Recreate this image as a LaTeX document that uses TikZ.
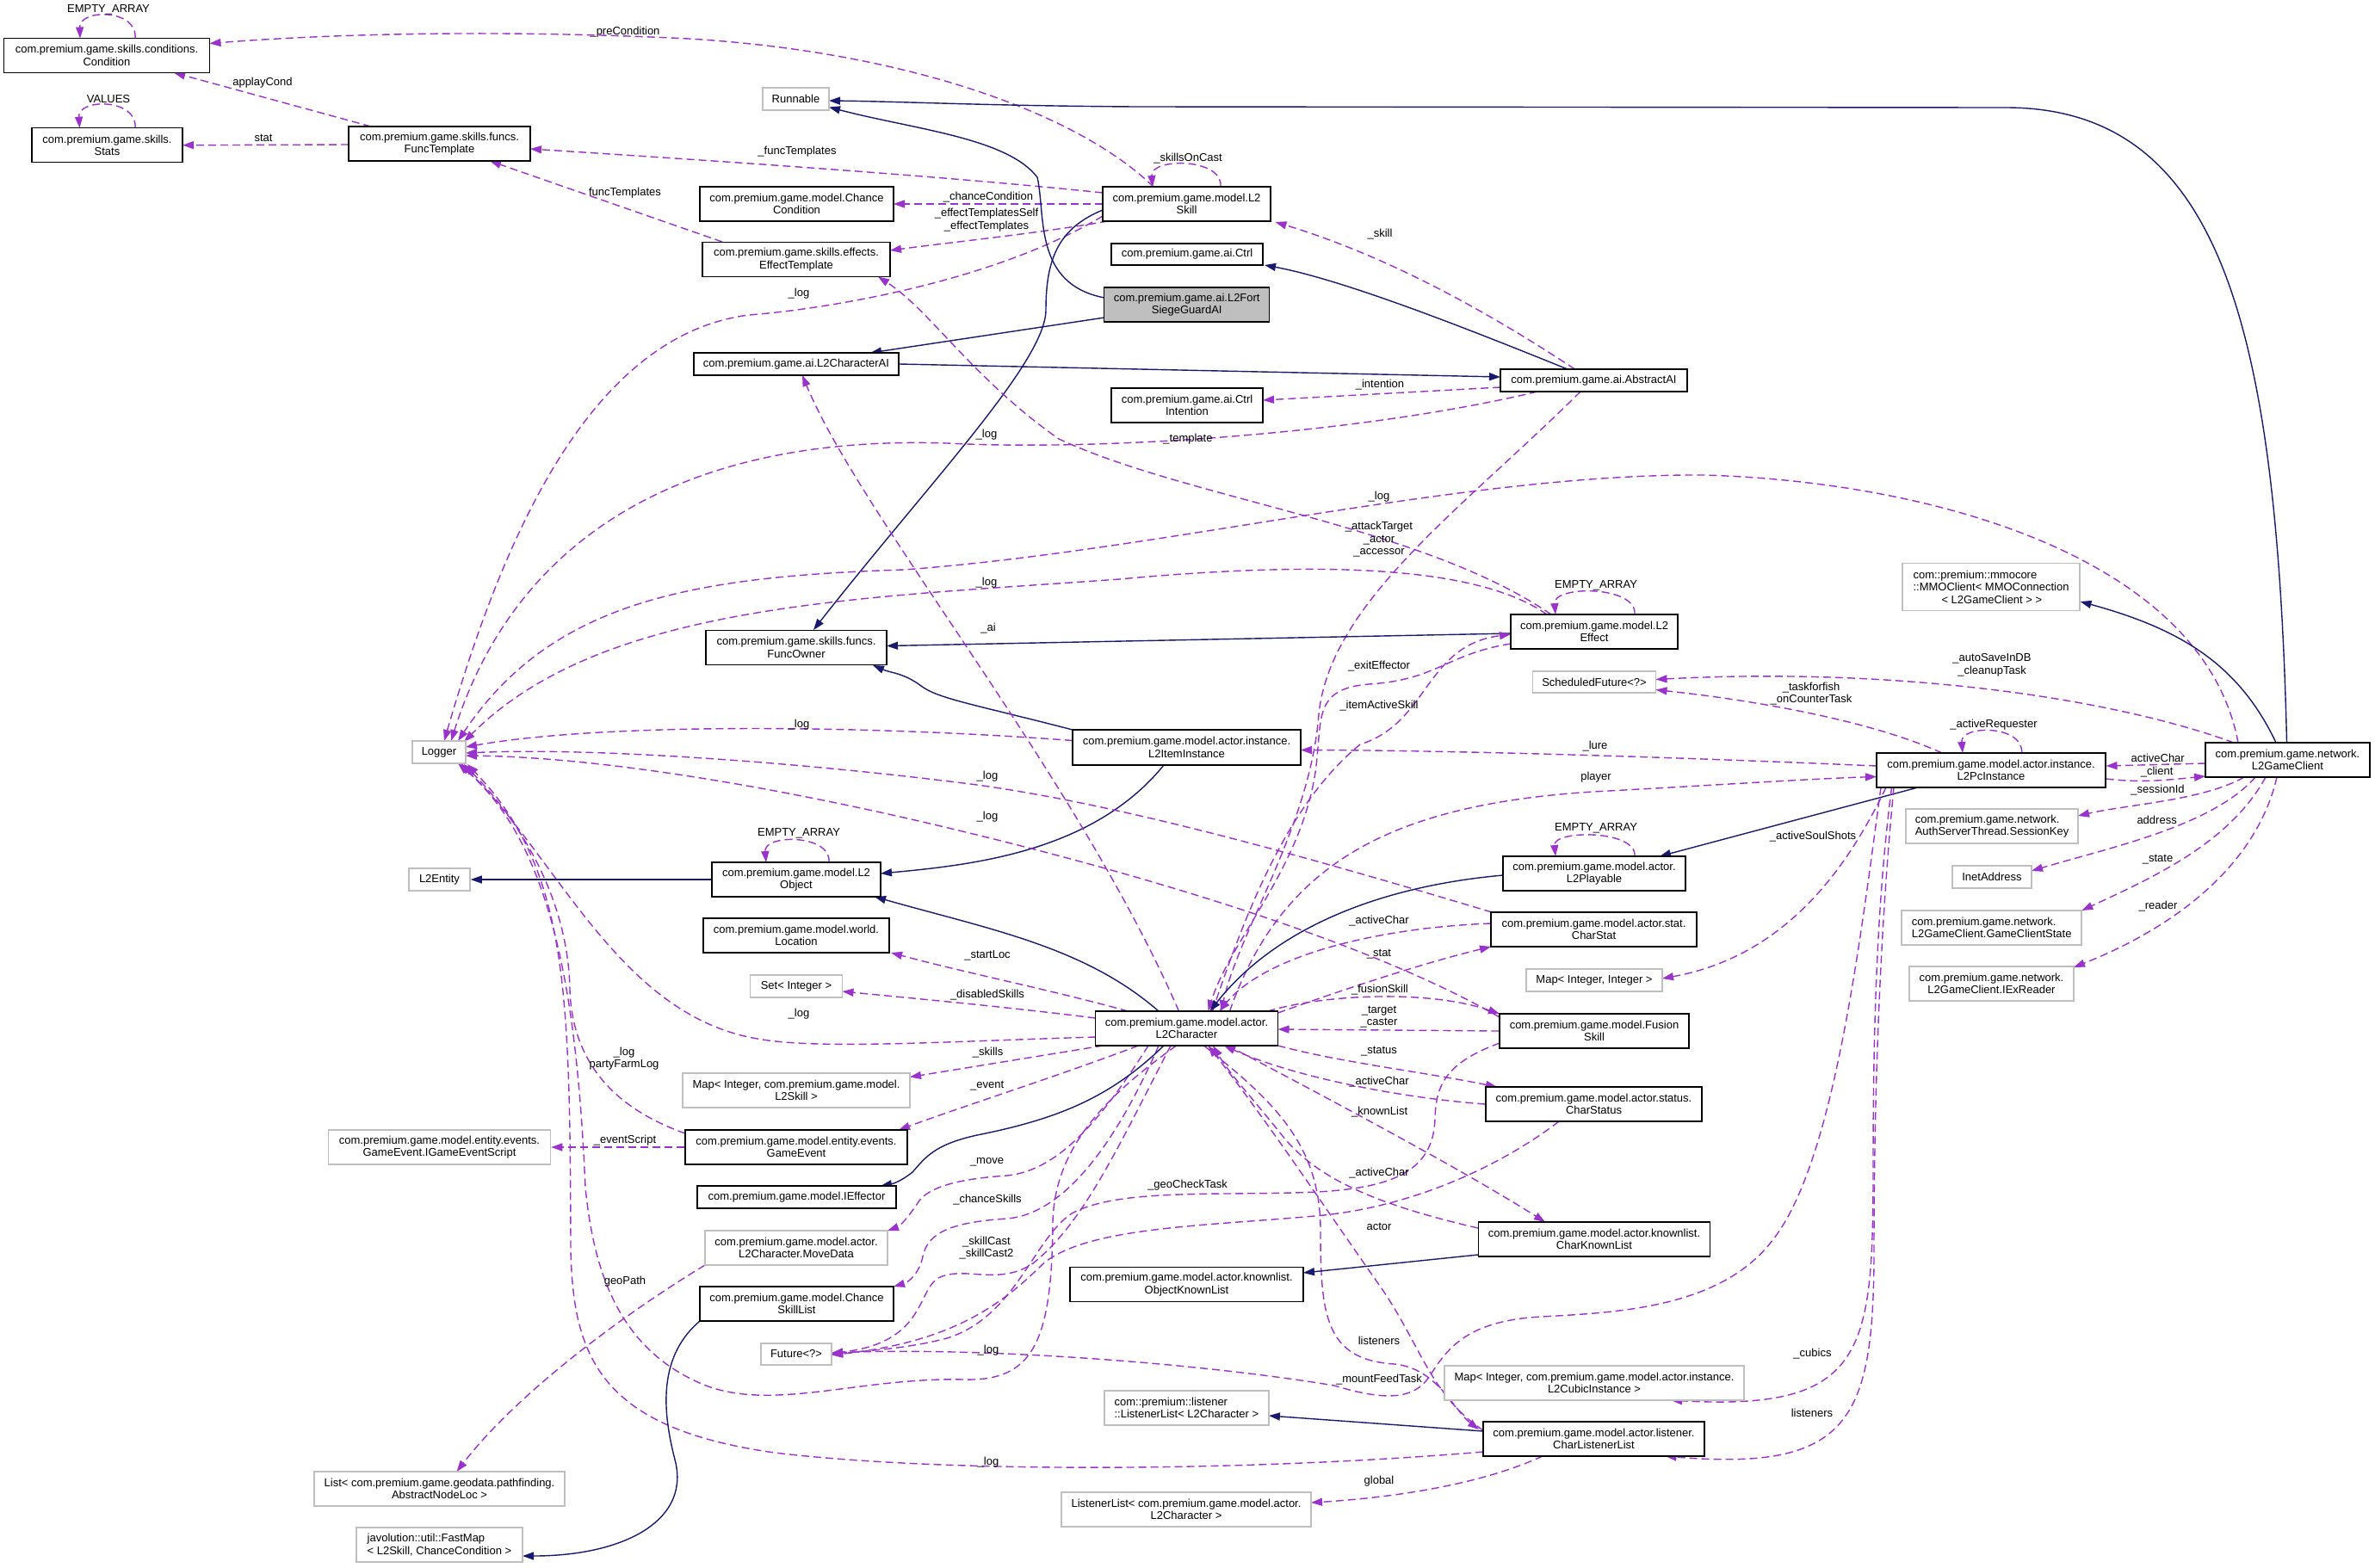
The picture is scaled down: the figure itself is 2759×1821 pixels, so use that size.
\documentclass[tikz,border=0pt]{standalone}
\usepackage{fontspec}
\setmainfont{Liberation Sans}
\usetikzlibrary{arrows.meta,calc}
\definecolor{dxnavy}{HTML}{191970}
\definecolor{dxpurple}{HTML}{9A32CD}
\definecolor{dxgray}{HTML}{BFBFBF}
\newcommand\nfont{\fontsize{13}{14.5}\selectfont}
\pgfdeclarelayer{back}
\pgfdeclarelayer{edges}
\pgfsetlayers{back,edges,main}
\begin{document}
\begin{tikzpicture}[x=1pt,y=-1pt,
 cbox/.style={draw=black,line width=1.5pt,fill=white,rectangle,inner sep=0pt,align=center,font=\nfont},
 gcbox/.style={cbox,draw=dxgray},
 inhedge/.style={draw=dxnavy,line width=1.4pt,-{Triangle[length=13pt,width=9pt]}},
 depedge/.style={draw=dxpurple,line width=1.4pt,dash pattern=on 9pt off 5pt,-{Triangle[length=13pt,width=9pt]}},
 lbl/.style={inner sep=0pt,align=center,font=\nfont}]
\begin{pgfonlayer}{back}
\fill[white] (0,0) rectangle (2759,1821);
\end{pgfonlayer}
\useasboundingbox (0,0) rectangle (2759,1821);
% ---------------- nodes
\node[cbox,minimum width=239,minimum height=40] (cond) at (124,64.5) {com.premium.game.skills.conditions.\\Condition};
\node[cbox,minimum width=175,minimum height=40] (stats) at (124.5,168.7) {com.premium.game.skills.\\Stats};
\node[cbox,minimum width=211,minimum height=40] (functempl) at (510.5,167) {com.premium.game.skills.funcs.\\FuncTemplate};
\node[gcbox,minimum width=77,minimum height=26] (runnable) at (924.5,115) {Runnable};
\node[cbox,minimum width=225,minimum height=40] (chancecond) at (925.5,237) {com.premium.game.model.Chance\\Condition};
\node[cbox,minimum width=218,minimum height=40] (efftempl) at (925,301.5) {com.premium.game.skills.effects.\\EffectTemplate};
\node[cbox,minimum width=238,minimum height=26] (charai) at (925,423) {com.premium.game.ai.L2CharacterAI};
\node[cbox,minimum width=195,minimum height=40] (l2skill) at (1378.5,237) {com.premium.game.model.L2\\Skill};
\node[cbox,minimum width=176,minimum height=25] (ctrl) at (1379,295.5) {com.premium.game.ai.Ctrl};
\node[cbox,fill=dxgray,minimum width=192,minimum height=40] (fortai) at (1378.7,354) {com.premium.game.ai.L2Fort\\SiegeGuardAI};
\node[cbox,minimum width=217,minimum height=26] (abstractai) at (1851.5,442) {com.premium.game.ai.AbstractAI};
\node[cbox,minimum width=176,minimum height=40] (ctrlint) at (1379,471) {com.premium.game.ai.Ctrl\\Intention};
\node[gcbox,minimum width=62,minimum height=26] (logger) at (510,874) {Logger};
\node[gcbox,minimum width=71,minimum height=26] (l2entity) at (510.5,1022) {L2Entity};
\node[cbox,minimum width=210,minimum height=40] (funcowner) at (925,752.5) {com.premium.game.skills.funcs.\\FuncOwner};
\node[cbox,minimum width=196,minimum height=40] (l2object) at (925,1022) {com.premium.game.model.L2\\Object};
\node[cbox,minimum width=216,minimum height=40] (location) at (925,1087) {com.premium.game.model.world.\\Location};
\node[gcbox,minimum width=107,minimum height=26] (setint) at (925,1146) {Set< Integer >};
\node[cbox,minimum width=265,minimum height=41] (l2item) at (1378.5,868.5) {com.premium.game.model.actor.instance.\\L2ItemInstance};
\node[cbox,minimum width=194,minimum height=40] (l2effect) at (1852,734) {com.premium.game.model.L2\\Effect};
\node[gcbox,minimum width=143,minimum height=25] (schedfut) at (1852,792.5) {ScheduledFuture<?>};
\node[cbox,minimum width=212,minimum height=40] (l2playable) at (1852,1015) {com.premium.game.model.actor.\\L2Playable};
\node[cbox,minimum width=239,minimum height=40] (charstat) at (1851.5,1080) {com.premium.game.model.actor.stat.\\CharStat};
\node[gcbox,minimum width=158,minimum height=26] (mapii) at (1852,1139) {Map< Integer, Integer >};
\node[cbox,minimum width=220,minimum height=40] (fusion) at (1852,1198) {com.premium.game.model.Fusion\\Skill};
\node[cbox,minimum width=212,minimum height=40] (l2char) at (1378.5,1195) {com.premium.game.model.actor.\\L2Character};
\node[gcbox,align=left,minimum width=206,minimum height=55] (mmoclient) at (2313,682) {com::premium::mmocore\\::MMOClient< MMOConnection\\\hspace*{33pt}< L2GameClient > >};
\node[cbox,minimum width=266,minimum height=40] (l2pc) at (2313,895) {com.premium.game.model.actor.instance.\\L2PcInstance};
\node[cbox,minimum width=191,minimum height=40] (gameclient) at (2657.5,883) {com.premium.game.network.\\L2GameClient};
\node[gcbox,align=left,minimum width=200,minimum height=40] (sessionkey) at (2314,960) {com.premium.game.network.\\AuthServerThread.SessionKey};
\node[gcbox,minimum width=92,minimum height=26] (inet) at (2314,1019) {InetAddress};
\node[gcbox,align=left,minimum width=209,minimum height=40] (gcstate) at (2313.7,1078) {com.premium.game.network.\\L2GameClient.GameClientState};
\node[gcbox,minimum width=191,minimum height=40] (exreader) at (2313.5,1143) {com.premium.game.network.\\L2GameClient.IExReader};
\node[gcbox,minimum width=264,minimum height=40] (mapskill) at (925,1267) {Map< Integer, com.premium.game.model.\\L2Skill >};
\node[cbox,minimum width=258,minimum height=40] (gameevent) at (925,1333) {com.premium.game.model.entity.events.\\GameEvent};
\node[gcbox,minimum width=258,minimum height=40] (geventscript) at (510.5,1333) {com.premium.game.model.entity.events.\\GameEvent.IGameEventScript};
\node[cbox,minimum width=231,minimum height=26] (ieffector) at (925.5,1391) {com.premium.game.model.IEffector};
\node[gcbox,minimum width=212,minimum height=40] (movedata) at (925,1450) {com.premium.game.model.actor.\\L2Character.MoveData};
\node[cbox,minimum width=225,minimum height=40] (chanceskill) at (925.5,1515) {com.premium.game.model.Chance\\SkillList};
\node[gcbox,minimum width=82,minimum height=25] (future) at (925,1573.5) {Future<?>};
\node[gcbox,minimum width=291,minimum height=40] (listnode) at (510.5,1730) {List< com.premium.game.geodata.pathfinding.\\AbstractNodeLoc >};
\node[gcbox,align=left,minimum width=193,minimum height=40] (fastmap) at (510.5,1795) {javolution::util::FastMap\\< L2Skill, ChanceCondition >};
\node[cbox,minimum width=271,minimum height=40] (objknown) at (1378.5,1492.5) {com.premium.game.model.actor.knownlist.\\ObjectKnownList};
\node[gcbox,align=left,minimum width=191,minimum height=40] (listenerlist) at (1378.4,1636) {com::premium::listener\\::ListenerList< L2Character >};
\node[gcbox,minimum width=290,minimum height=40] (listenerlist2) at (1378,1754) {ListenerList< com.premium.game.model.actor.\\L2Character >};
\node[cbox,minimum width=251,minimum height=40] (charstatus) at (1851.5,1283) {com.premium.game.model.actor.status.\\CharStatus};
\node[cbox,minimum width=269,minimum height=40] (charknown) at (1852,1440) {com.premium.game.model.actor.knownlist.\\CharKnownList};
\node[gcbox,minimum width=348,minimum height=40] (mapcubic) at (1852,1607) {Map< Integer, com.premium.game.model.actor.instance.\\L2CubicInstance >};
\node[cbox,minimum width=257,minimum height=40] (charlistener) at (1851.5,1672) {com.premium.game.model.actor.listener.\\CharListenerList};
% ---------------- labels
\node[lbl] (t1) at (126,11) {EMPTY\_ARRAY};
\node[lbl] (t2) at (126,115) {VALUES};
\node[lbl] (t3) at (305,96.5) {applayCond};
\node[lbl] (t4) at (306,160) {stat};
\node[lbl] (t5) at (726,37) {\_preCondition};
\node[lbl] (t6) at (1380,184) {\_skillsOnCast};
\node[lbl] (t7) at (926,176) {\_funcTemplates};
\node[lbl] (t8) at (1148,229) {\_chanceCondition};
\node[lbl] (t9) at (1146,255.5) {\_effectTemplatesSelf\\\_effectTemplates};
\node[lbl] (t10) at (928,341) {\_log};
\node[lbl] (t11) at (726,224.5) {funcTemplates};
\node[lbl] (t12) at (1603,447) {\_intention};
\node[lbl] (t13) at (1603,272) {\_skill};
\node[lbl] (t14) at (1146,505) {\_log};
\node[lbl] (t15) at (1602,577) {\_log};
\node[lbl] (t16) at (1146,677) {\_log};
\node[lbl] (t17) at (1380,510) {\_template};
\node[lbl] (t18) at (1854,680) {EMPTY\_ARRAY};
\node[lbl] (t19) at (1602,627) {\_attackTarget\\\_actor\\\_accessor};
\node[lbl] (t20) at (1602,820) {\_itemActiveSkill};
\node[lbl] (t21) at (1602,774) {\_exitEffector};
\node[lbl] (t22) at (928,842) {\_log};
\node[lbl] (t23) at (1853,867) {\_lure};
\node[lbl] (t24) at (928,968) {EMPTY\_ARRAY};
\node[lbl] (t25) at (1147,902) {\_log};
\node[lbl] (t26) at (1147,949) {\_log};
\node[lbl] (t27) at (928,1178) {\_log};
\node[lbl] (t28) at (725,1230) {\_log\\partyFarmLog};
\node[lbl] (t29) at (1148,1699) {\_log};
\node[lbl] (t30) at (1148,1569) {\_log};
\node[lbl] (t31) at (1148,730) {\_ai};
\node[lbl] (t32) at (1854,903) {player};
\node[lbl] (t33) at (1854,962) {EMPTY\_ARRAY};
\node[lbl] (t34) at (2316,842) {\_activeRequester};
\node[lbl] (t35) at (2104,806) {\_taskforfish\\\_onCounterTask};
\node[lbl] (t36) at (2314,773) {\_autoSaveInDB\\\_cleanupTask};
\node[lbl] (t37) at (2506.7,881) {activeChar};
\node[lbl] (t38) at (2505.6,896.6) {\_client};
\node[lbl] (t39) at (2506.5,918) {\_sessionId};
\node[lbl] (t40) at (2505.6,953) {address};
\node[lbl] (t41) at (2506.5,998.6) {\_state};
\node[lbl] (t42) at (2507,1053) {\_reader};
\node[lbl] (t43) at (2106,972.5) {\_activeSoulShots};
\node[lbl] (t44) at (2105.5,1573.5) {\_cubics};
\node[lbl] (t45) at (2105,1641.6) {listeners};
\node[lbl] (t46) at (1602,1603) {\_mountFeedTask};
\node[lbl] (t47) at (1602,1070.5) {\_activeChar};
\node[lbl] (t48) at (1602,1109) {\_stat};
\node[lbl] (t49) at (1603,1150.4) {\_fusionSkill};
\node[lbl] (t50) at (1602,1181.5) {\_target\\\_caster};
\node[lbl] (t51) at (1602,1221.7) {\_status};
\node[lbl] (t52) at (1602,1256.7) {\_activeChar};
\node[lbl] (t53) at (1602.6,1292.3) {\_knownList};
\node[lbl] (t54) at (1602,1362.7) {\_activeChar};
\node[lbl] (t55) at (1602,1425) {actor};
\node[lbl] (t56) at (1602,1557.7) {listeners};
\node[lbl] (t57) at (1379.5,1377.4) {\_geoCheckTask};
\node[lbl] (t58) at (1146,1450) {\_skillCast\\\_skillCast2};
\node[lbl] (t59) at (1146.5,1350) {\_move};
\node[lbl] (t60) at (1147,1394) {\_chanceSkills};
\node[lbl] (t61) at (1147.6,1222.6) {\_skills};
\node[lbl] (t62) at (1146.6,1262) {\_event};
\node[lbl] (t63) at (1147,1110) {\_startLoc};
\node[lbl] (t64) at (1147,1156) {\_disabledSkills};
\node[lbl] (t65) at (726,1325) {\_eventScript};
\node[lbl] (t66) at (726,1489) {geoPath};
\node[lbl] (t67) at (1602,1721) {global};
% ---------------- edges
\begin{pgfonlayer}{edges}
% self loops
\draw[depedge] ($(cond)+(33,-20)$) .. controls (160,10) and (92,10) .. ($(cond)+(-31,-20)$);
\draw[depedge] ($(stats)+(32.5,-20)$) .. controls (160,114) and (90,114) .. ($(stats)+(-32,-20)$);
\draw[depedge] ($(l2skill)+(39.5,-20)$) .. controls (1421,183) and (1336,183) .. ($(l2skill)+(-39.5,-20)$);
\draw[depedge] ($(l2effect)+(47,-20)$) .. controls (1902,680) and (1804,680) .. ($(l2effect)+(-45,-20)$);
\draw[depedge] ($(l2object)+(38,-20)$) .. controls (966,969) and (887,969) .. ($(l2object)+(-35,-20)$);
\draw[depedge] ($(l2playable)+(47,-20)$) .. controls (1902,964) and (1804,964) .. ($(l2playable)+(-45,-20)$);
\draw[depedge] ($(l2pc)+(35.6,-20)$) .. controls (2351,842) and (2277,842) .. ($(l2pc)+(-33,-20)$);
% top-left group
\draw[depedge] ($(functempl)+(-79.5,-20)$) -- ($(cond)+(78,20)$);
\draw[depedge] ($(functempl)+(-105.5,1)$) -- ($(stats)+(87.5,0)$);
\draw[depedge] ($(l2skill)+(-38.5,-20)$) .. controls (1250,130) and (1050,60) .. (800,45) .. controls (600,35) and (400,38) .. ($(cond)+(119.5,-14)$);
\draw[depedge] ($(l2skill)+(-97.5,-13)$) .. controls (1100,205) and (850,188) .. ($(functempl)+(105.5,6)$);
\draw[depedge] ($(l2skill)+(-97.5,0)$) -- ($(chancecond)+(112.5,0)$);
\draw[depedge] ($(l2skill)+(-91.5,20)$) .. controls (1200,272) and (1100,282) .. ($(efftempl)+(109,-10.5)$);
\draw[depedge] ($(l2skill)+(-97.5,14)$) .. controls (1150,330) and (950,360) .. (870,366) .. controls (680,390) and (580,640) .. ($(logger)+(6,-13)$);
\draw[depedge] ($(efftempl)+(-86,-20.5)$) -- ($(functempl)+(58.5,20)$);
% inheritance top
\draw[inhedge] ($(fortai)+(-95.7,-8)$) .. controls (1200,330) and (1215,250) .. (1205,206) .. controls (1170,160) and (1060,150) .. ($(runnable)+(38.5,9.5)$);
\draw[inhedge] ($(l2skill)+(-97.5,7)$) .. controls (1230,265) and (1215,300) .. (1215,360) .. controls (1215,420) and (1080,560) .. ($(funcowner)+(20,-20.5)$);
\draw[inhedge] ($(fortai)+(-95.7,15)$) -- ($(charai)+(86,-13)$);
\draw[inhedge] (charai.east) -- ($(abstractai)+(-108.5,-4)$);
\draw[inhedge] ($(abstractai)+(-30.5,-13)$) .. controls (1700,380) and (1560,325) .. ($(ctrl)+(90,12.5)$);
\draw[depedge] ($(abstractai)+(-108.5,8)$) -- ($(ctrlint)+(88,-6)$);
\draw[depedge] ($(abstractai)+(-22,-13)$) .. controls (1740,370) and (1620,300) .. ($(l2skill)+(103,21)$);
\draw[depedge] ($(abstractai)+(-65.5,13)$) .. controls (1600,500) and (1300,525) .. (1100,515) .. controls (800,505) and (600,620) .. ($(logger)+(14,-13)$);
\draw[inhedge] ($(gameclient)+(-1,-20)$) .. controls (2645,380) and (2580,125) .. (2330,125) -- (1320,124) .. controls (1150,123) and (1050,118) .. ($(runnable)+(38.5,2)$);
\draw[depedge] ($(gameclient)+(-57.5,-20)$) .. controls (2560,650) and (2250,560) .. (1980,552) .. controls (1700,550) and (1350,640) .. (1050,662) .. controls (800,670) and (640,700) .. ($(logger)+(22,-13)$);
\draw[depedge] ($(l2effect)+(-55,-20)$) .. controls (1720,660) and (1550,650) .. (1300,673) .. controls (1000,695) and (700,700) .. ($(logger)+(29,-12)$);
\draw[depedge] ($(l2effect)+(-50,-20)$) .. controls (1650,610) and (1380,580) .. (1230,510) .. controls (1130,440) and (1080,360) .. ($(efftempl)+(95,20)$);
\draw[depedge] ($(abstractai)+(-15.5,13)$) .. controls (1700,590) and (1545,700) .. (1532,830) .. controls (1522,960) and (1440,1080) .. ($(l2char)+(40,-20)$);
\draw[inhedge] ($(l2effect)+(-97,2)$) -- ($(funcowner)+(105,-2)$);
\draw[depedge] ($(l2char)+(30,-20)$) .. controls (1450,1050) and (1500,930) .. (1580,865) .. controls (1660,840) and (1655,750) .. ($(l2effect)+(-97,3)$);
\draw[depedge] ($(l2effect)+(-97,14)$) .. controls (1680,760) and (1670,790) .. (1590,795) .. controls (1530,800) and (1535,830) .. (1530,880) .. controls (1520,1000) and (1430,1090) .. ($(l2char)+(25,-20)$);
\draw[inhedge] ($(l2item)+(-132.5,-20.5)$) .. controls (1130,818) and (1090,812) .. (1070,797) .. controls (1050,782) and (1035,782) .. ($(funcowner)+(89,20.5)$);
\draw[depedge] ($(l2item)+(-132.5,-8)$) .. controls (1000,842) and (700,840) .. ($(logger)+(31,-6)$);
\draw[depedge] ($(l2pc)+(-133,-5)$) .. controls (1950,880) and (1700,872) .. ($(l2item)+(132.5,3)$);
\draw[inhedge] (l2object.west) -- (l2entity.east);
\draw[inhedge] ($(l2item)+(-26.5,20.5)$) .. controls (1270,990) and (1130,1005) .. ($(l2object)+(98,-7)$);
\draw[inhedge] ($(l2char)+(-32.5,-20)$) .. controls (1260,1100) and (1150,1080) .. ($(l2object)+(91,20)$);
\draw[depedge] ($(charstat)+(-118.5,-20)$) .. controls (1500,990) and (1300,935) .. (1135,912) .. controls (950,888) and (700,868) .. ($(logger)+(31,1)$);
\draw[depedge] ($(fusion)+(-110,-16)$) .. controls (1600,1100) and (1350,1020) .. (1076,956) .. controls (900,915) and (700,880) .. ($(logger)+(31,4)$);
\draw[depedge] ($(l2char)+(-106,10)$) .. controls (1100,1210) and (950,1220) .. (880,1207) .. controls (720,1180) and (650,1000) .. ($(logger)+(25,13)$);
\draw[depedge] ($(gameevent)+(-129,-16)$) .. controls (720,1290) and (665,1240) .. (662,1150) .. controls (660,1040) and (600,950) .. ($(logger)+(29,14)$);
\draw[depedge] ($(charlistener)+(-128.5,15)$) .. controls (1450,1710) and (1100,1712) .. (900,1688) .. controls (700,1660) and (665,1580) .. (663,1450) .. controls (662,1150) and (660,1010) .. ($(logger)+(33,14)$);
\draw[depedge] ($(l2char)+(-12,20)$) .. controls (1290,1270) and (1225,1330) .. (1223,1420) .. controls (1222,1560) and (1200,1605) .. (1120,1603) .. controls (1000,1600) and (900,1640) .. (820,1610) .. controls (720,1570) and (690,1480) .. (680,1380) .. controls (670,1150) and (640,980) .. ($(logger)+(22,13)$);
\draw[depedge] ($(l2char)+(-9,-20)$) .. controls (1250,900) and (1000,600) .. ($(charai)+(7,13)$);
\draw[depedge] ($(l2char)+(50,-20)$) .. controls (1490,1000) and (1620,935) .. (1850,920) .. controls (2000,912) and (2100,905) .. ($(l2pc)+(-133,7.5)$);
\draw[inhedge] ($(l2pc)+(-85,20)$) -- ($(l2playable)+(76,-20)$);
\draw[inhedge] ($(l2playable)+(-106,2)$) .. controls (1600,1030) and (1480,1080) .. ($(l2char)+(27,-20)$);
\draw[depedge] ($(l2pc)+(-57,-20)$) .. controls (2180,840) and (2050,815) .. ($(schedfut)+(71.5,9)$);
\draw[depedge] ($(gameclient)+(-62.5,-20)$) .. controls (2450,810) and (2200,775) .. ($(schedfut)+(71.5,-3)$);
\draw[inhedge] ($(gameclient)+(-13.5,-20)$) .. controls (2600,770) and (2530,730) .. ($(mmoclient)+(103.5,17)$);
\draw[depedge] ($(gameclient)+(-95.5,4)$) -- ($(l2pc)+(133.5,-5)$);
\draw[depedge] ($(l2pc)+(133.5,10)$) .. controls (2490,910) and (2520,906) .. ($(gameclient)+(-95.5,19)$);
\draw[depedge] ($(gameclient)+(-50.5,20)$) .. controls (2560,930) and (2470,935) .. ($(sessionkey)+(100,-12)$);
\draw[depedge] ($(gameclient)+(-37.5,20)$) .. controls (2570,960) and (2450,985) .. ($(inet)+(46,-7)$);
\draw[depedge] ($(gameclient)+(-25.5,20)$) .. controls (2590,980) and (2500,1020) .. ($(gcstate)+(104.5,-20)$);
\draw[depedge] ($(gameclient)+(-12.5,20)$) .. controls (2620,1010) and (2520,1080) .. ($(exreader)+(95.5,-19)$);
\draw[depedge] ($(l2pc)+(-122,20)$) .. controls (2150,1000) and (2080,1110) .. ($(mapii)+(79,-2)$);
\draw[depedge] ($(l2pc)+(-115.5,20)$) .. controls (2180,1050) and (2176,1200) .. (2176,1350) .. controls (2176,1570) and (2170,1640) .. ($(mapcubic)+(89,20)$);
\draw[depedge] ($(l2pc)+(-113,20)$) .. controls (2182,1100) and (2177,1300) .. (2177,1450) .. controls (2177,1650) and (2150,1710) .. ($(charlistener)+(83,20)$);
\draw[depedge] ($(l2pc)+(-128,20)$) .. controls (2160,1100) and (2130,1350) .. (2060,1440) .. controls (2000,1520) and (1880,1525) .. (1790,1530) .. controls (1700,1535) and (1680,1570) .. (1660,1600) .. controls (1640,1630) and (1600,1625) .. (1550,1610) .. controls (1400,1585) and (1150,1565) .. ($(future)+(41,-1.5)$);
\draw[depedge] ($(charstat)+(-119.5,-7)$) .. controls (1600,1078) and (1470,1110) .. ($(l2char)+(38,-20)$);
\draw[depedge] ($(l2char)+(106,-18)$) .. controls (1560,1150) and (1650,1120) .. ($(charstat)+(-119.5,20)$);
\draw[depedge] ($(l2char)+(94,-20)$) .. controls (1540,1155) and (1660,1150) .. ($(fusion)+(-110,-20)$);
\draw[depedge] (fusion.west) -- ($(l2char)+(106,1)$);
\draw[depedge] ($(l2char)+(106,20)$) .. controls (1560,1235) and (1650,1245) .. ($(charstatus)+(-112.5,-20)$);
\draw[depedge] (charstatus.west) .. controls (1620,1275) and (1500,1250) .. ($(l2char)+(43.5,20)$);
\draw[depedge] ($(l2char)+(48,20)$) .. controls (1550,1280) and (1700,1360) .. ($(charknown)+(-57,-20)$);
\draw[depedge] ($(charknown)+(-135,-13)$) .. controls (1600,1400) and (1530,1370) .. (1490,1320) .. controls (1450,1270) and (1430,1250) .. ($(l2char)+(30.5,20)$);
\draw[depedge] ($(charlistener)+(-128.5,-10)$) .. controls (1660,1620) and (1650,1560) .. (1600,1490) .. controls (1530,1390) and (1470,1300) .. ($(l2char)+(25,20)$);
\draw[depedge] ($(l2char)+(20,20)$) .. controls (1480,1280) and (1534,1330) .. (1534,1430) .. controls (1534,1530) and (1540,1580) .. (1620,1585) .. controls (1670,1590) and (1690,1640) .. ($(charlistener)+(-133.5,-11)$);
\draw[depedge] ($(fusion)+(-110,14)$) .. controls (1680,1235) and (1668,1260) .. (1667,1300) .. controls (1665,1360) and (1620,1380) .. (1530,1385) .. controls (1420,1390) and (1300,1380) .. (1245,1410) .. controls (1200,1440) and (1180,1530) .. (1100,1555) .. controls (1050,1568) and (1000,1570) .. ($(future)+(41,0)$);
\draw[depedge] ($(charstatus)+(-40.5,20)$) .. controls (1750,1350) and (1650,1400) .. (1538,1412) .. controls (1400,1425) and (1260,1425) .. (1210,1470) .. controls (1160,1520) and (1100,1560) .. ($(future)+(41,1)$);
\draw[depedge] ($(l2char)+(-18.5,20)$) .. controls (1300,1330) and (1260,1420) .. (1200,1468) .. controls (1160,1495) and (1120,1470) .. (1090,1485) .. controls (1065,1500) and (1075,1560) .. ($(future)+(41,-1)$);
\draw[depedge] ($(l2char)+(-44.5,20)$) .. controls (1280,1300) and (1230,1360) .. (1170,1366) .. controls (1110,1370) and (1080,1380) .. (1068,1395) .. controls (1055,1415) and (1045,1425) .. ($(movedata)+(106,-20)$);
\draw[depedge] ($(l2char)+(-32.5,20)$) .. controls (1300,1320) and (1240,1410) .. (1170,1416) .. controls (1110,1420) and (1078,1430) .. (1072,1460) .. controls (1068,1480) and (1055,1490) .. ($(chanceskill)+(112.5,-20)$);
\draw[depedge] ($(l2char)+(-97,20)$) -- ($(mapskill)+(132,-15.5)$);
\draw[depedge] ($(l2char)+(-56,20)$) .. controls (1230,1250) and (1120,1285) .. ($(gameevent)+(119,-20)$);
\draw[depedge] ($(l2char)+(-68,-20)$) .. controls (1220,1150) and (1120,1130) .. ($(location)+(110,20)$);
\draw[depedge] ($(l2char)+(-106,-12)$) .. controls (1170,1170) and (1060,1160) .. ($(setint)+(53.5,6)$);
\draw[inhedge] ($(l2char)+(-26.5,20)$) .. controls (1290,1275) and (1230,1300) .. (1135,1319) .. controls (1085,1330) and (1075,1345) .. (1060,1362) .. controls (1050,1370) and (1040,1375) .. ($(ieffector)+(97.5,-13)$);
\draw[depedge] (gameevent.west) -- (geventscript.east);
\draw[depedge] ($(movedata)+(-106,20)$) .. controls (720,1530) and (600,1620) .. ($(listnode)+(20,-20)$);
\draw[inhedge] ($(chanceskill)+(-112.5,20)$) .. controls (760,1580) and (772,1650) .. (785,1700) .. controls (800,1770) and (720,1808) .. ($(fastmap)+(96.5,13)$);
\draw[inhedge] ($(charknown)+(-135,18)$) -- ($(objknown)+(135.5,-13.5)$);
\draw[inhedge] ($(charlistener)+(-128.5,-9)$) -- ($(listenerlist)+(95.5,9)$);
\draw[depedge] ($(charlistener)+(-59.5,20)$) .. controls (1720,1725) and (1620,1740) .. ($(listenerlist2)+(145,-8)$);
\end{pgfonlayer}
\end{tikzpicture}
\end{document}
